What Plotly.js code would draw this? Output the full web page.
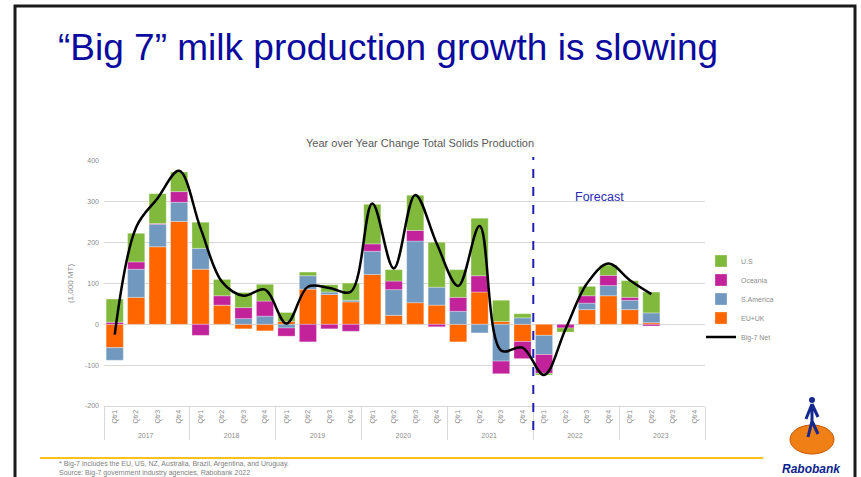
<!DOCTYPE html>
<html>
<head>
<meta charset="utf-8">
<script src="https://cdn.plot.ly/plotly-3.0.1.min.js"></script>
<style>
  html, body { margin: 0; padding: 0; background: #fff; }
  #chart { width: 861px; height: 477px; }
</style>
</head>
<body>
<div id="chart"></div>
<script>
// year-over-year change, 1,000 MT
const years = ['2017', '2018', '2019', '2020', '2021', '2022', '2023'];
const quarters = ['Qtr1', 'Qtr2', 'Qtr3', 'Qtr4'];

const euUk = [-57, 66, 190, 252, 135, 47, -11, -16, 7, 86, 73, 55, 122, 22, 53, 47, -43, 79, 7, -42, -27, 0, 36, 70, 36, 4, null, null];
const sAmerica = [-31, 69, 55, 47, 51, 0, 14, 20, -9, 33, 6, 4, 57, 63, 151, 44, 32, -21, -90, 16, -47, 0, 16, 25, 23, 24, null, null];
const oceania = [5, 18, 2, 26, -27, 23, 27, 37, -20, -43, -11, -17, 18, 21, 26, -6, 34, 40, -31, -42, -46, -9, 18, 25, 7, -4, null, null];
const us = [57, 70, 73, 48, 64, 40, 37, 41, 22, 9, 18, 42, 97, 28, 86, 110, 68, 141, 52, 10, -4, -10, 23, 25, 41, 51, null, null];
const big7Net = [-25, 238, 309, 376, 235, 104, 70, 85, 2, 92, 89, 80, 296, 137, 317, 198, 94, 241, -64, -57, -124, -12, 100, 149, 108, 74, null, null];

const forecastFrom = 20; // first forecast quarter (2022 Qtr1)
const yTicks = [-200, -100, 0, 100, 200, 300, 400];

// two level category axis
const xYears = [];
const xQtrs = [];
years.forEach(y => quarters.forEach(q => { xYears.push(y); xQtrs.push(q); }));
const x = [xYears, xQtrs];

// plot box in page pixels, used for the slide decorations around the chart
const L = 104, R = 705, T = 161, B = 406;
const px = v => (v - L) / (R - L);
const py = v => (B - v) / (B - T);
const pt = (a, b) => px(a) + ',' + py(b);

const narrow = 'Liberation Sans Narrow, Liberation Sans, Arial, sans-serif';

function bar(name, vals, color, rank) {
    return {
        type: 'bar', name: name, x: x, y: vals,
        marker: { color: color, line: { color: 'rgba(255,255,255,0.6)', width: 0.5 } },
        legendrank: rank, hoverinfo: 'y+name'
    };
}

const data = [
    bar('EU+UK', euUk, '#FF6600', 4),
    bar('S.America', sAmerica, '#7199BF', 3),
    bar('Oceania', oceania, '#C2239B', 2),
    bar('U.S', us, '#80B93C', 1),
    {
        type: 'scatter', mode: 'lines', name: 'Big-7 Net', x: x, y: big7Net,
        line: { color: '#000', width: 2.5, shape: 'spline', smoothing: 1 },
        connectgaps: false, legendrank: 5
    }
];

const fx = forecastFrom / xQtrs.length;

function note(text, xPix, yPix, size, color, anchor, family) {
    return {
        text: text, xref: 'paper', yref: 'paper', x: px(xPix), y: py(yPix),
        xanchor: anchor || 'center', yanchor: 'middle', showarrow: false, align: 'left',
        font: { size: size, color: color, family: family || narrow }
    };
}

const layout = {
    width: 861, height: 477,
    margin: { l: L, r: 861 - R, t: T, b: 477 - B },
    paper_bgcolor: '#fff', plot_bgcolor: '#fff',
    font: { family: narrow, color: '#7f7f7f', size: 7 },
    barmode: 'relative', bargap: 0.2,
    showlegend: true,
    title: {
        text: '\u201cBig 7\u201d milk production growth is slowing',
        font: { family: narrow, size: 37, color: '#0A0A9E' },
        x: 58 / 861, xanchor: 'left', xref: 'container',
        y: 1 - 47 / 477, yanchor: 'middle', yref: 'container'
    },
    xaxis: {
        type: 'multicategory',
        tickangle: -90,
        tickfont: { size: 7, color: '#8c8c8c' },
        showdividers: true, dividercolor: '#d9d9d9', dividerwidth: 1,
        showline: true, linecolor: '#d9d9d9', linewidth: 1,
        ticks: '', showgrid: false, zeroline: false
    },
    yaxis: {
        range: [-200, 400],
        tickvals: yTicks, ticktext: yTicks.map(String),
        tickfont: { size: 7, color: '#8c8c8c' },
        gridcolor: '#d9d9d9', gridwidth: 1,
        zeroline: true, zerolinecolor: '#d9d9d9', zerolinewidth: 1,
        ticks: '', ticklabelstandoff: 4,
        title: { text: '(1,000 MT)', font: { size: 8, color: '#8c8c8c' }, standoff: 10 }
    },
    legend: {
        x: px(701), xanchor: 'left', y: py(299), yanchor: 'middle',
        font: { size: 7, color: '#8c8c8c' },
        bgcolor: 'rgba(0,0,0,0)', itemwidth: 30, tracegroupgap: 0
    },
    shapes: [
        // forecast divider
        { type: 'line', xref: 'paper', yref: 'paper', x0: fx, x1: fx, y0: py(430), y1: py(157),
          line: { color: '#1F1FB0', width: 2, dash: 'dash' } },
        // slide frame
        { type: 'rect', xref: 'paper', yref: 'paper', x0: px(15), x1: px(855), y0: py(500), y1: py(6),
          line: { color: '#1a1a1a', width: 3 } },
        // footer rule
        { type: 'line', xref: 'paper', yref: 'paper', x0: px(40), x1: px(763), y0: py(458), y1: py(458),
          line: { color: '#FFC21A', width: 2 } },
        // Rabobank disc and figure
        { type: 'circle', xref: 'paper', yref: 'paper', x0: px(790), x1: px(834), y0: py(454), y1: py(425),
          fillcolor: '#F07F16', line: { color: '#C65400', width: 1 } },
        { type: 'circle', xref: 'paper', yref: 'paper', x0: px(809), x1: px(815), y0: py(403), y1: py(397),
          fillcolor: '#14288F', line: { width: 0 } },
        { type: 'path', xref: 'paper', yref: 'paper',
          path: 'M' + pt(812, 404) + ' L' + pt(806, 419) + ' M' + pt(812, 404) + ' L' + pt(818, 417) +
                ' M' + pt(812, 404) + ' L' + pt(812, 421) + ' L' + pt(808, 437) +
                ' M' + pt(812, 421) + ' L' + pt(818, 434),
          line: { color: '#14288F', width: 3 } }
    ],
    annotations: [
        note('Year over Year Change Total Solids Production', 420, 143, 11, '#595959'),
        note('Forecast', 573, 197, 12.5, '#2B2BB8', 'left', 'Liberation Sans, Arial'),
        note('* Big-7 includes the EU, US, NZ, Australia, Brazil, Argentina, and Uruguay.<br>' +
             'Source: Big-7 government industry agencies, Rabobank 2022', 57, 468, 7, '#808080', 'left'),
        note('<b><i>Rabobank</i></b>', 811, 469, 12, '#0B1F8F', 'center', 'Liberation Sans, Arial')
    ]
};

Plotly.newPlot('chart', data, layout, { displayModeBar: false, responsive: false });
</script>
</body>
</html>
